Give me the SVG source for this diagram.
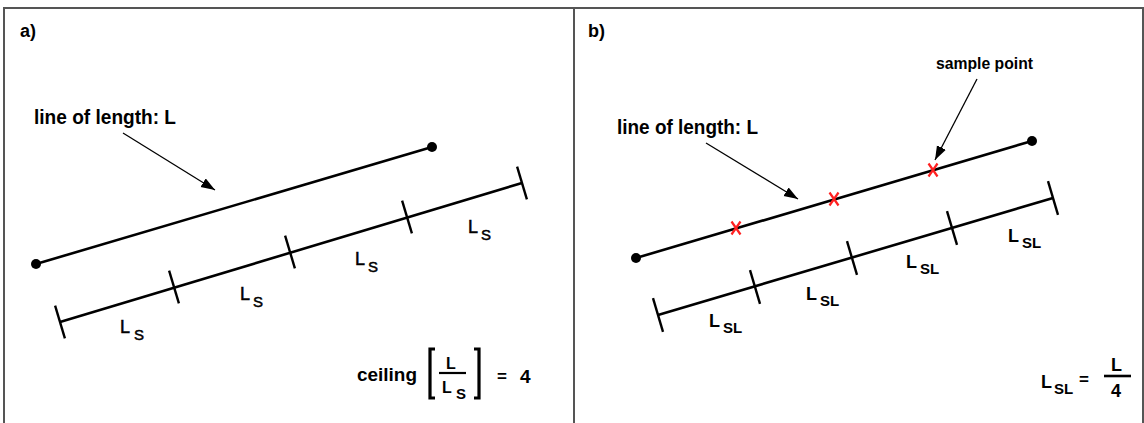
<svg xmlns="http://www.w3.org/2000/svg" width="1144" height="423" viewBox="0 0 1144 423">
<style>
text{font-family:"Liberation Sans",Arial,sans-serif;fill:#000}
.b{font-weight:bold}
.main{stroke:#000;stroke-width:2.6;fill:none;stroke-linecap:butt}
.tick{stroke:#000;stroke-width:2.4;fill:none}
.ptr{stroke:#000;stroke-width:1.3;fill:none}
.x{stroke:#ff2020;stroke-width:2.2;fill:none}
.frame{stroke:#555;stroke-width:2;fill:none}
.lab{font-size:18px;stroke:#000;stroke-width:0.5}
.sub{font-size:15px}
</style>
<defs>
<marker id="ah" markerUnits="userSpaceOnUse" markerWidth="16" markerHeight="12" refX="14" refY="5" orient="auto">
<path d="M0,0 L14,5 L0,10 Z" fill="#000"/>
</marker>
</defs>
<rect x="0" y="0" width="1144" height="423" fill="#fff"/>
<g id="frame">
<path class="frame" d="M4,423 V8 H1143 V423"/>
<path class="frame" d="M574,8 V423"/>
</g>

<g id="panel-a">
<text class="b" x="20" y="37" font-size="18">a)</text>
<g id="a-line">
<line class="main" x1="36" y1="264" x2="432" y2="147"/>
<circle cx="36" cy="264" r="5"/>
<circle cx="432" cy="147" r="5"/>
</g>
<g id="a-ruler">
<line class="main" x1="60" y1="322" x2="522" y2="183"/>
<line class="tick" x1="55.1" y1="305.7" x2="64.9" y2="338.3"/>
<line class="tick" x1="169.1" y1="270.7" x2="178.9" y2="303.3"/>
<line class="tick" x1="285.1" y1="235.7" x2="294.9" y2="268.3"/>
<line class="tick" x1="402.1" y1="200.7" x2="411.9" y2="233.3"/>
<line class="tick" x1="517.1" y1="166.7" x2="526.9" y2="199.3"/>
</g>
<g id="a-labels">
<text x="120" y="333" class="lab">L<tspan x="134" y="340" class="sub">S</tspan></text>
<text x="240" y="300" class="lab">L<tspan x="253" y="307" class="sub">S</tspan></text>
<text x="355" y="265" class="lab">L<tspan x="368" y="272" class="sub">S</tspan></text>
<text x="468" y="233" class="lab">L<tspan x="481" y="240" class="sub">S</tspan></text>
</g>
<g id="a-caption">
<text class="b" x="34" y="124" font-size="19.5" textLength="142" lengthAdjust="spacingAndGlyphs">line of length: L</text>
</g>
<g id="a-formula">
<text class="b" x="357" y="381" font-size="19" textLength="60" lengthAdjust="spacingAndGlyphs">ceiling</text>
<path d="M435,349 H430 V398 H435" stroke="#000" stroke-width="3.2" fill="none"/>
<path d="M474,349 H479 V398 H474" stroke="#000" stroke-width="3.2" fill="none"/>
<text class="b" x="446" y="369" font-size="16">L</text>
<line x1="439" y1="373" x2="466" y2="373" stroke="#000" stroke-width="2.2"/>
<text class="b" x="442" y="393" font-size="16">L<tspan x="456" y="399" font-size="15">S</tspan></text>
<text class="b" x="497" y="382" font-size="17">=</text>
<text class="b" x="520" y="383" font-size="19">4</text>
</g>
</g>

<g id="panel-b">
<text class="b" x="588" y="37" font-size="18">b)</text>
<g id="b-line">
<line class="main" x1="636" y1="258" x2="1032" y2="141"/>
<circle cx="636" cy="258" r="5"/>
<circle cx="1032" cy="141" r="5"/>
</g>
<g id="b-samples">
<path class="x" d="M731.5,221.5 L740.5,234.5 M740.5,221.5 L731.5,234.5"/>
<path class="x" d="M829.5,192.5 L838.5,205.5 M838.5,192.5 L829.5,205.5"/>
<path class="x" d="M928.5,163.5 L937.5,176.5 M937.5,163.5 L928.5,176.5"/>
</g>
<g id="b-ruler">
<line class="main" x1="658" y1="315" x2="1053" y2="198"/>
<line class="tick" x1="653" y1="298.2" x2="663" y2="331.8"/>
<line class="tick" x1="750" y1="270.2" x2="760" y2="303.8"/>
<line class="tick" x1="847" y1="241.2" x2="857" y2="274.8"/>
<line class="tick" x1="947" y1="211.2" x2="957" y2="244.8"/>
<line class="tick" x1="1048" y1="181.2" x2="1058" y2="214.8"/>
</g>
<g id="b-labels" class="b">
<text x="709" y="327" font-size="18">L<tspan x="723" y="333" font-size="15">SL</tspan></text>
<text x="806" y="300" font-size="18">L<tspan x="820" y="306" font-size="15">SL</tspan></text>
<text x="906" y="268" font-size="18">L<tspan x="920" y="274" font-size="15">SL</tspan></text>
<text x="1008" y="242" font-size="18">L<tspan x="1022" y="248" font-size="15">SL</tspan></text>
</g>
<g id="b-caption">
<text class="b" x="617" y="134" font-size="19.5" textLength="141" lengthAdjust="spacingAndGlyphs">line of length: L</text>
</g>
<g id="b-sample-label">
<text class="b" x="936" y="69" font-size="17" textLength="97" lengthAdjust="spacingAndGlyphs">sample point</text>
</g>
<g id="b-formula" class="b">
<text x="1041" y="388" font-size="18">L<tspan x="1054" y="394" font-size="15">SL</tspan></text>
<text x="1079" y="385" font-size="17">=</text>
<text x="1111" y="371" font-size="18">L</text>
<line x1="1104" y1="376" x2="1131" y2="376" stroke="#000" stroke-width="2.6"/>
<text x="1111" y="397" font-size="18">4</text>
</g>
</g>

<g id="connectors">
<line class="ptr" x1="123" y1="133" x2="215" y2="190" marker-end="url(#ah)"/>
<line class="ptr" x1="706" y1="143" x2="798" y2="199" marker-end="url(#ah)"/>
<line class="ptr" x1="977" y1="79" x2="935" y2="160" marker-end="url(#ah)"/>
</g>
</svg>
